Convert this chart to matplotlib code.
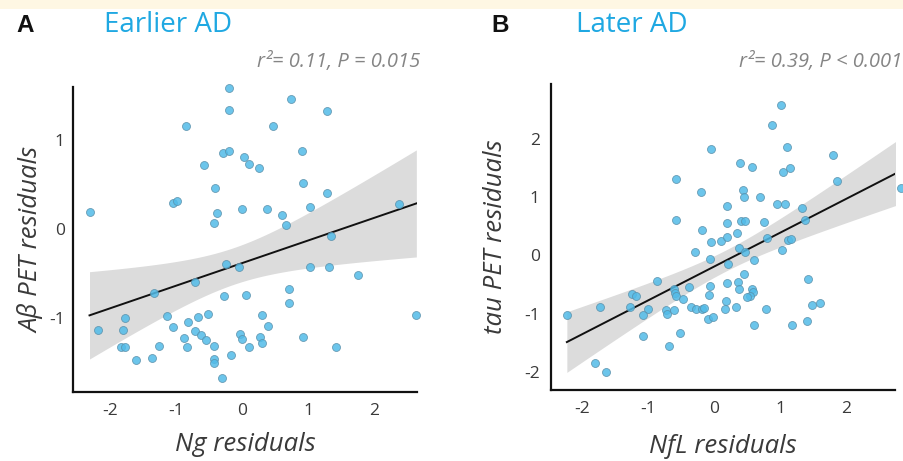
import numpy as np
import matplotlib
matplotlib.use("Agg")
import matplotlib.pyplot as plt
from matplotlib.patches import Rectangle

# ---------------- data ----------------
ng_x = [-0.20, -0.19, -0.85, -0.29, -0.19, 0.03, 0.10, -0.57, -0.41, -1.05,
        -0.98, -2.31, -0.38, 0.00, -0.43, -0.24, -0.05, -0.71, -1.34, -0.27,
        0.06, -1.78, -2.18, -1.80, -1.13, -1.05, -0.82, -0.66, -0.52, -0.88,
        -0.71, -0.62, -0.54, -0.42, -1.84, -1.78, -1.25, -0.83, -1.60, -1.37,
        -0.42, -0.42, -0.16, -0.31, -0.03, 0.00, 0.10,
        0.74, 1.28, 0.47, 0.26, 0.91, 0.92, 1.28, 0.38, 0.61, 0.67,
        1.03, 2.37, 1.34, 1.03, 1.31, 1.75, 0.71, 0.71, 0.30, 0.39,
        0.27, 0.31, 0.93, 1.43, 2.64]
abeta_y = [1.58, 1.33, 1.15, 0.85, 0.87, 0.81, 0.73, 0.72, 0.46, 0.29,
           0.31, 0.19, 0.18, 0.22, 0.06, -0.40, -0.43, -0.60, -0.72, -0.75,
           -0.74, -1.00, -1.13, -1.13, -0.98, -1.10, -1.05, -0.99, -0.96, -1.22,
           -1.15, -1.19, -1.25, -1.31, -1.33, -1.33, -1.31, -1.33, -1.47, -1.45,
           -1.46, -1.50, -1.41, -1.67, -1.18, -1.24, -1.32,
           1.45, 1.32, 1.15, 0.68, 0.87, 0.51, 0.40, 0.22, 0.15, 0.04,
           0.25, 0.28, -0.08, -0.43, -0.43, -0.52, -0.68, -0.83, -0.97, -1.09,
           -1.21, -1.28, -1.21, -1.33, -0.97]

nfl_x = [-0.05, -0.57, -0.20, 0.19, -0.57, -0.18, 0.20, -0.05, 0.11, 0.19,
         -0.29, 1.02, 0.88, 1.10, 1.80, 0.40, 0.58, 1.05, 1.15, 1.86,
         2.83, 0.44, 0.46, 0.69, 0.95, 1.08, 1.33, 0.41, 0.47, 0.75,
         1.38, 0.34, 0.80, 1.12, 1.16, 0.37, 1.03, 0.47, -0.06, 0.21,
         0.61, 1.42, -0.86, -0.60, -0.59, -0.57, -0.38, -0.47, -0.06, -0.07,
         0.20, 0.36, 0.45, 0.38, 0.58, 0.59, 0.54, 0.50, 0.18, -0.35,
         -0.27, -0.19, -0.15, 0.33, 0.79, 0.16, -0.09, -0.02, -1.24, -1.18,
         -1.73, -2.23, -1.27, -1.00, -1.07, -0.73, -0.71, -0.60, -1.07, -0.52,
         -0.69, -1.80, -1.63, 1.48, 1.61, 0.60, 1.18, 1.41]
tau_y = [1.83, 1.31, 1.09, 0.85, 0.60, 0.44, 0.55, 0.23, 0.25, 0.31,
         0.06, 2.58, 2.24, 1.86, 1.72, 1.58, 1.52, 1.43, 1.50, 1.28,
         1.16, 1.12, 1.00, 1.00, 0.88, 0.88, 0.81, 0.59, 0.59, 0.57,
         0.61, 0.39, 0.30, 0.27, 0.28, 0.13, 0.09, 0.06, -0.06, -0.15,
         -0.08, -0.40, -0.44, -0.58, -0.64, -0.70, -0.55, -0.75, -0.52, -0.68,
         -0.47, -0.45, -0.32, -0.57, -0.57, -0.63, -0.70, -0.72, -0.79, -0.88,
         -0.92, -0.92, -0.91, -0.88, -0.92, -0.92, -1.10, -1.06, -0.66, -0.69,
         -0.89, -1.02, -0.89, -0.92, -1.03, -0.94, -1.00, -0.94, -1.39, -1.33,
         -1.55, -1.85, -2.00, -0.86, -0.81, -1.19, -1.20, -1.12]

panel_letters = ["A", "B"]
titles = ["Earlier AD", "Later AD"]
stats_texts = ["r\u00b2= 0.11, P = 0.015", "r\u00b2= 0.39, P < 0.001"]
x_labels = ["Ng residuals", "NfL residuals"]
y_labels = ["A\u03b2 PET residuals", "tau PET residuals"]
xticks_a = [-2, -1, 0, 1, 2]
yticks_a = [-1, 0, 1]
xticks_b = [-2, -1, 0, 1, 2]
yticks_b = [-2, -1, 0, 1, 2]

# ---------------- style ----------------
FONT = ["Open Sans", "DejaVu Sans"]
plt.rcParams["font.family"] = FONT
plt.rcParams["axes.unicode_minus"] = False
W, H = 904, 461
fig = plt.figure(figsize=(W / 100, H / 100), dpi=100)
fig.patch.set_facecolor("white")
fig.patches.append(Rectangle((0, 1 - 9 / H), 1, 9 / H, transform=fig.transFigure,
                             facecolor="#FEF7E3", edgecolor="none", zorder=0))

PT_COLOR = "#52BBE8"
PT_EDGE = "#5a90aa"
BAND = "#DCDCDC"
TITLE_BLUE = "#1FA8E2"
TXT = "#3a3a3a"


def fig_box(l, t, r, b):
    return [l / W, 1 - b / H, (r - l) / W, (b - t) / H]


def fit_band(x, y, xs):
    x = np.asarray(x); y = np.asarray(y)
    n = len(x)
    b1, b0 = np.polyfit(x, y, 1)
    yhat = b0 + b1 * x
    s = np.sqrt(np.sum((y - yhat) ** 2) / (n - 2))
    sxx = np.sum((x - x.mean()) ** 2)
    se = s * np.sqrt(1 / n + (xs - x.mean()) ** 2 / sxx)
    fit = b0 + b1 * xs
    return fit, fit - 1.99 * se, fit + 1.99 * se


panels = [
    dict(box=fig_box(73, 87, 417, 392), x=ng_x, y=abeta_y, xlim=(-2.56, 2.65),
         ylim=(-1.83, 1.59), xt=xticks_a, yt=yticks_a, ypad=6,
         letter_x=16, title_x=104, stats_r=420, ylab_x=31, xlab_y=444),
    dict(box=fig_box(551, 84, 895, 390), x=nfl_x, y=tau_y, xlim=(-2.47, 2.74),
         ylim=(-2.31, 2.94), xt=xticks_b, yt=yticks_b, ypad=8,
         letter_x=491, title_x=576, stats_r=902, ylab_x=496, xlab_y=446),
]

for i, p in enumerate(panels):
    ax = fig.add_axes(p["box"])
    ax.set_facecolor("none")
    xs = np.linspace(min(p["x"]), max(p["x"]), 200)
    fit, lo, hi = fit_band(p["x"], p["y"], xs)
    ax.fill_between(xs, lo, hi, color=BAND, lw=0, zorder=1)
    ax.plot(xs, fit, color="#111111", lw=1.4, zorder=2)
    ax.scatter(p["x"], p["y"], s=33, c=PT_COLOR, edgecolors=PT_EDGE,
               linewidths=0.6, alpha=0.85, zorder=3, clip_on=False)
    ax.set_xlim(*p["xlim"]); ax.set_ylim(*p["ylim"])
    ax.set_xticks(p["xt"]); ax.set_yticks(p["yt"])
    ax.tick_params(axis="x", length=0, pad=8, labelsize=12.5, labelcolor=TXT)
    ax.tick_params(axis="y", length=0, pad=p["ypad"], labelsize=12.5, labelcolor=TXT)
    for side in ("top", "right"):
        ax.spines[side].set_visible(False)
    for side in ("left", "bottom"):
        ax.spines[side].set_linewidth(1.6)
        ax.spines[side].set_color("#111111")

    cx = (p["box"][0] + p["box"][2] / 2)
    fig.text(cx, 1 - p["xlab_y"] / H, x_labels[i], ha="center", va="center",
             fontsize=18.5, style="italic", color=TXT)
    fig.text(p["ylab_x"] / W, p["box"][1] + p["box"][3] / 2, y_labels[i],
             ha="center", va="center", rotation=90, fontsize=18.5,
             style="italic", color=TXT)
    fig.text(p["letter_x"] / W, 1 - 26 / H, panel_letters[i], ha="left",
             va="center", fontsize=17.5, fontweight="bold", color="#111111",
             family=["Liberation Sans", "DejaVu Sans"])
    fig.text(p["title_x"] / W, 1 - 25 / H, titles[i], ha="left", va="center",
             fontsize=20, color=TITLE_BLUE)
    fig.text(p["stats_r"] / W, 1 - 62 / H, stats_texts[i], ha="right",
             va="center", fontsize=14.5, style="italic", color="#858585")

fig.savefig("out.png", dpi=100)
